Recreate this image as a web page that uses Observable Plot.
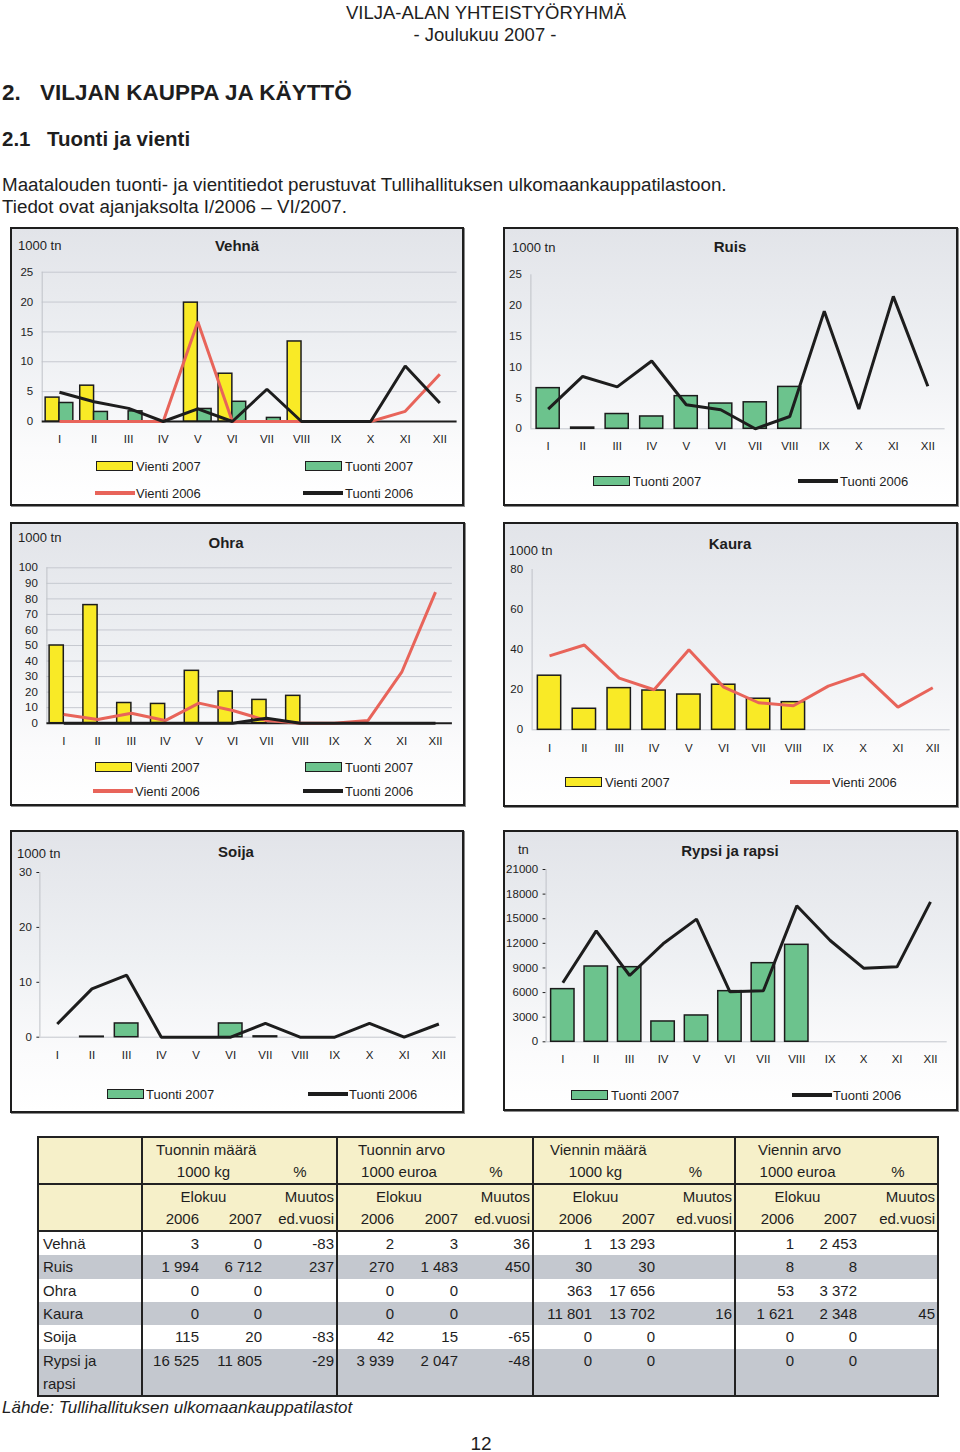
<!DOCTYPE html>
<html>
<head>
<meta charset="utf-8">
<script src="https://cdn.jsdelivr.net/npm/d3@7"></script>
<script src="https://cdn.jsdelivr.net/npm/@observablehq/plot@0.6"></script>
<style>
  html, body { margin: 0; padding: 0; background: #fff; }
  #page { position: relative; width: 960px; height: 1452px; overflow: hidden; font-family: "Liberation Sans", Arial, sans-serif; color: #1e1e1e; }
  .t { position: absolute; white-space: nowrap; line-height: 1; transform: translateY(-50%); }
  .c { transform: translate(-50%, -50%); }
  .panel { position: absolute; box-sizing: border-box; border: 2px solid #1e1e1e; box-shadow: 1px 1px 0 #8a8a8a;
           background: linear-gradient(to bottom, #e2e4e9 0%, #eef0f3 45%, #fbfbfc 80%, #ffffff 100%); }
  .sw { position: absolute; box-sizing: border-box; transform: translateY(-50%); }
  table.tbl { position: absolute; left: 37px; top: 1136px; width: 900px; border-collapse: collapse; table-layout: fixed;
              font-size: 15px; border: 2px solid #222; }
  table.tbl td { padding: 0 2px 0 0; height: 23.3px; line-height: 23.3px; text-align: right; white-space: nowrap; overflow: hidden; }
  table.tbl tr.hb td { height: 21.8px; line-height: 21.8px; border-bottom: 2px solid #222; }
  table.tbl tr.h td { background: #f6f0c9; }
  table.tbl tr.g td { background: #c4c8cf; }
  table.tbl tr.w td { background: #ffffff; }
  table.tbl td.lab { text-align: left; padding-left: 4px; }
  table.tbl td.gb { border-left: 2px solid #222; }
  table.tbl td.ctr { text-align: center; padding: 0; }
  table.tbl td.lft { text-align: left; }
</style>
</head>
<body>
<div id="page"></div>
<script>
// ---------- DATA ----------
const months = ["I","II","III","IV","V","VI","VII","VIII","IX","X","XI","XII"];

const vehnaVienti2007 = [4, 6, 0, 0, 19.9, 8, 0, 13.4, null, null, null, null];
const vehnaTuonti2007 = [3.1, 1.6, 1.7, 0, 2.1, 3.3, 0.6, 0, null, null, null, null];
const vehnaVienti2006 = [0, 0, 0, 0, 16.7, 0, 0, 0, 0, 0, 1.7, 7.9];
const vehnaTuonti2006 = [4.9, 3.3, 2.2, 0, 2.1, 0, 5.4, 0, 0, 0, 9.3, 3.1];

const ruisTuonti2007 = [6.6, 0.2, 2.4, 2, 5.3, 4.1, 4.3, 6.8, null, null, null, null];
const ruisTuonti2006 = [3.2, 8.5, 6.8, 11, 3.9, 3.1, 0, 2, 19.1, 3.2, 21.5, 6.9];

const ohraVienti2007 = [50, 76, 13, 12.4, 33.7, 20.4, 15, 17.6, null, null, null, null];
const ohraTuonti2007 = [0, 0, 0, 0, 0, 0, 0, 0, null, null, null, null];
const ohraVienti2006 = [5.6, 2.4, 6.4, 1.7, 12.9, 8.2, 1.7, 0, 0, 1.7, 32.8, 84.3];
const ohraTuonti2006 = [0, 0, 0, 0, 0, 0, 3.2, 0, 0, 0, 0, 0];

const kauraVienti2007 = [27, 10.5, 20.8, 19.6, 17.6, 22.5, 15.5, 13.8, null, null, null, null];
const kauraVienti2006 = [36.9, 42.3, 25.8, 20, 40, 21.3, 13.5, 12, 21.8, 27.8, 11.3, 21];

const soijaTuonti2007 = [0, 0.1, 2.5, 0, 0, 2.5, 0.15, null, null, null, null, null];
const soijaTuonti2006 = [2.4, 8.8, 11.3, 0, 0, 0, 2.5, 0, 0, 2.5, 0, 2.4];

const rypsiTuonti2007 = [6417, 9178, 9097, 2477, 3208, 6173, 9584, 11820, null, null, null, null];
const rypsiTuonti2006 = [7190, 13525, 8083, 11942, 14948, 6092, 6214, 16572, 12348, 8977, 9139, 17060];

const vehnaTicks = [0, 5, 10, 15, 20, 25];
const ruisTicks = [0, 5, 10, 15, 20, 25];
const ohraTicks = [0, 10, 20, 30, 40, 50, 60, 70, 80, 90, 100];
const kauraTicks = [0, 20, 40, 60, 80];
const soijaTicks = [0, 10, 20, 30];
const rypsiTicks = [0, 3000, 6000, 9000, 12000, 15000, 18000, 21000];

// table
const tableRows = ["Vehnä", "Ruis", "Ohra", "Kaura", "Soija", "Rypsi ja rapsi"];
const tuonninMaara2006 = ["3", "1 994", "0", "0", "115", "16 525"];
const tuonninMaara2007 = ["0", "6 712", "0", "0", "20", "11 805"];
const tuonninMaaraMuutos = ["-83", "237", "", "", "-83", "-29"];
const tuonninArvo2006 = ["2", "270", "0", "0", "42", "3 939"];
const tuonninArvo2007 = ["3", "1 483", "0", "0", "15", "2 047"];
const tuonninArvoMuutos = ["36", "450", "", "", "-65", "-48"];
const vienninMaara2006 = ["1", "30", "363", "11 801", "0", "0"];
const vienninMaara2007 = ["13 293", "30", "17 656", "13 702", "0", "0"];
const vienninMaaraMuutos = ["", "", "", "16", "", ""];
const vienninArvo2006 = ["1", "8", "53", "1 621", "0", "0"];
const vienninArvo2007 = ["2 453", "8", "3 372", "2 348", "0", "0"];
const vienninArvoMuutos = ["", "", "", "45", "", ""];
const groupTitles = ["Tuonnin määrä", "Tuonnin arvo", "Viennin määrä", "Viennin arvo"];
const groupUnits = ["1000 kg", "1000 euroa", "1000 kg", "1000 euroa"];

// ---------- COLOURS ----------
const YELLOW = "#f9ea26", GREEN = "#6cc38d", RED = "#e8645a", BLACK = "#1d1d1d";

const page = document.getElementById("page");

function text(x, y, s, style = {}, center = false) {
  const d = document.createElement("div");
  d.className = "t" + (center ? " c" : "");
  d.textContent = s;
  d.style.left = x + "px";
  d.style.top = y + "px";
  Object.assign(d.style, style);
  page.appendChild(d);
  return d;
}
function panel(x, y, w, h) {
  const d = document.createElement("div");
  d.className = "panel";
  Object.assign(d.style, {left: x + "px", top: y + "px", width: w + "px", height: h + "px"});
  page.appendChild(d);
}
function swatch(x, y, type, color, label, textX) {
  const d = document.createElement("div");
  d.className = "sw";
  if (type === "bar") {
    Object.assign(d.style, {left: x + "px", top: y + "px", width: "37px", height: "10px", background: color, border: "1.5px solid #1e1e1e"});
  } else {
    Object.assign(d.style, {left: x + "px", top: y + "px", width: "40px", height: "4px", background: color});
  }
  page.appendChild(d);
  text(textX, y, label, {fontSize: "13px"});
}

function chart(cfg) {
  const rows = arr => months.map((m, i) => ({m: i + 1, value: arr[i]}));
  const marks = [];
  if (cfg.grid) marks.push(Plot.ruleY(cfg.yTicks.filter(t => t > 0), {stroke: "#c6c9d0", strokeWidth: 1}));
  marks.push(Plot.ruleX([0.5], {stroke: "#bfc2c8", strokeWidth: 1}));
  marks.push(Plot.ruleY([0], {stroke: cfg.baseColor, strokeWidth: cfg.baseWidth}));
  for (const b of cfg.bars) {
    marks.push(Plot.rect(rows(b.values).filter(d => d.value != null && d.value > 0), {
      x1: d => d.m + b.from, x2: d => d.m + b.to, y1: 0, y2: "value",
      fill: b.fill, stroke: "#1c1c1c", strokeWidth: 1.5
    }));
  }
  for (const l of cfg.lines) {
    marks.push(Plot.line(rows(l.values).filter(d => d.value != null), {
      x: "m", y: "value", stroke: l.stroke, strokeWidth: 3, strokeLinejoin: "miter", strokeLinecap: "butt"
    }));
  }
  const svg = Plot.plot({
    width: cfg.w, height: cfg.h,
    marginTop: cfg.mt, marginBottom: cfg.mb, marginLeft: cfg.ml, marginRight: cfg.mr,
    style: {background: "transparent", fontFamily: "'Liberation Sans', Arial, sans-serif", fontSize: "11.5px", color: "#222", overflow: "visible"},
    x: {type: "linear", domain: [0.5, 12.5], ticks: months.map((m, i) => i + 1), tickFormat: d => months[d - 1],
        tickSize: 0, tickPadding: cfg.xPad, label: null},
    y: {domain: [cfg.yTicks[0], cfg.yTicks[cfg.yTicks.length - 1]], ticks: cfg.yTicks, tickFormat: d => String(d),
        tickSize: cfg.yTickSize || 0, tickPadding: cfg.yPad, label: null},
    marks
  });
  svg.style.position = "absolute";
  svg.style.left = cfg.x + "px";
  svg.style.top = cfg.y + "px";
  page.appendChild(svg);
}

// ---------- PAGE HEADER ----------
text(486, 13, "VILJA-ALAN YHTEISTYÖRYHMÄ", {fontSize: "18.5px"}, true);
text(485, 35, "- Joulukuu 2007 -", {fontSize: "18.5px"}, true);
text(2, 93, "2.", {fontSize: "22.5px", fontWeight: "bold"});
text(40, 93, "VILJAN KAUPPA JA KÄYTTÖ", {fontSize: "22.5px", fontWeight: "bold"});
text(2, 139, "2.1", {fontSize: "20.5px", fontWeight: "bold"});
text(47, 139, "Tuonti ja vienti", {fontSize: "20.5px", fontWeight: "bold"});
text(2, 185, "Maatalouden tuonti- ja vientitiedot perustuvat Tullihallituksen ulkomaankauppatilastoon.", {fontSize: "18.8px"});
text(2, 207, "Tiedot ovat ajanjaksolta I/2006 – VI/2007.", {fontSize: "18.8px"});

// ---------- PANELS ----------
panel(10, 227, 454, 279);
panel(503, 227, 455, 279);
panel(10, 522, 455, 284);
panel(503, 522, 455, 285);
panel(10, 830, 454, 283);
panel(503, 830, 455, 281);

// Vehnä
chart({x: 10, y: 227, w: 453, h: 230, ml: 31.7, mr: 6.4, mt: 44.7, mb: 36, xPad: 13, yPad: 9,
  yTicks: vehnaTicks, grid: true, baseColor: "#1d1d1d", baseWidth: 2,
  bars: [{values: vehnaVienti2007, fill: YELLOW, from: -0.4, to: 0}, {values: vehnaTuonti2007, fill: GREEN, from: 0, to: 0.4}],
  lines: [{values: vehnaVienti2006, stroke: RED}, {values: vehnaTuonti2006, stroke: BLACK}]});
text(237, 245, "Vehnä", {fontSize: "15px", fontWeight: "bold"}, true);
text(18, 245, "1000 tn", {fontSize: "13px"});
swatch(96, 466, "bar", YELLOW, "Vienti 2007", 136);
swatch(305, 466, "bar", GREEN, "Tuonti 2007", 345);
swatch(95, 493, "line", RED, "Vienti 2006", 136);
swatch(303, 493, "line", BLACK, "Tuonti 2006", 345);

// Ruis
chart({x: 503, y: 227, w: 454, h: 240, ml: 27.4, mr: 12.4, mt: 47.3, mb: 38.7, xPad: 13.5, yPad: 9,
  yTicks: ruisTicks, grid: false, baseColor: "#c4c7cd", baseWidth: 1,
  bars: [{values: ruisTuonti2007, fill: GREEN, from: -0.335, to: 0.335}],
  lines: [{values: ruisTuonti2006, stroke: BLACK}]});
text(730, 246, "Ruis", {fontSize: "15px", fontWeight: "bold"}, true);
text(512, 247, "1000 tn", {fontSize: "13px"});
swatch(593, 481, "bar", GREEN, "Tuonti 2007", 633);
swatch(798, 481, "line", BLACK, "Tuonti 2006", 840);

// Ohra
chart({x: 10, y: 522, w: 455, h: 240, ml: 36.4, mr: 13.1, mt: 45.3, mb: 39.3, xPad: 14, yPad: 9,
  yTicks: ohraTicks, grid: true, baseColor: "#1d1d1d", baseWidth: 2,
  bars: [{values: ohraVienti2007, fill: YELLOW, from: -0.42, to: 0}, {values: ohraTuonti2007, fill: GREEN, from: 0, to: 0.42}],
  lines: [{values: ohraVienti2006, stroke: RED}, {values: ohraTuonti2006, stroke: BLACK}]});
text(226, 542, "Ohra", {fontSize: "15px", fontWeight: "bold"}, true);
text(18, 537, "1000 tn", {fontSize: "13px"});
swatch(95, 767, "bar", YELLOW, "Vienti 2007", 135);
swatch(305, 767, "bar", GREEN, "Tuonti 2007", 345);
swatch(93, 791, "line", RED, "Vienti 2006", 135);
swatch(303, 791, "line", BLACK, "Tuonti 2006", 345);

// Kaura
chart({x: 503, y: 522, w: 454, h: 250, ml: 28.6, mr: 7.3, mt: 47, mb: 42.7, xPad: 14.4, yPad: 9,
  yTicks: kauraTicks, grid: false, baseColor: "#c4c7cd", baseWidth: 1,
  bars: [{values: kauraVienti2007, fill: YELLOW, from: -0.335, to: 0.335}],
  lines: [{values: kauraVienti2006, stroke: RED}]});
text(730, 543, "Kaura", {fontSize: "15px", fontWeight: "bold"}, true);
text(509, 550, "1000 tn", {fontSize: "13px"});
swatch(565, 782, "bar", YELLOW, "Vienti 2007", 605);
swatch(790, 782, "line", RED, "Vienti 2006", 832);

// Soija
chart({x: 10, y: 830, w: 453, h: 250, ml: 29.4, mr: 7.3, mt: 42, mb: 43.3, xPad: 14, yPad: 5, yTickSize: 3,
  yTicks: soijaTicks, grid: false, baseColor: "#c4c7cd", baseWidth: 1,
  bars: [{values: soijaTuonti2007, fill: GREEN, from: -0.34, to: 0.34}],
  lines: [{values: soijaTuonti2006, stroke: BLACK}]});
text(236, 851, "Soija", {fontSize: "15px", fontWeight: "bold"}, true);
text(17, 853, "1000 tn", {fontSize: "13px"});
swatch(107, 1094, "bar", GREEN, "Tuonti 2007", 146);
swatch(308, 1094, "line", BLACK, "Tuonti 2006", 349);

// Rypsi ja rapsi
chart({x: 503, y: 830, w: 454, h: 250, ml: 42.6, mr: 10.3, mt: 39, mb: 38.7, xPad: 12.7, yPad: 5, yTickSize: 3,
  yTicks: rypsiTicks, grid: false, baseColor: "#c4c7cd", baseWidth: 1,
  bars: [{values: rypsiTuonti2007, fill: GREEN, from: -0.35, to: 0.35}],
  lines: [{values: rypsiTuonti2006, stroke: BLACK}]});
text(730, 850, "Rypsi ja rapsi", {fontSize: "15px", fontWeight: "bold"}, true);
text(518, 849, "tn", {fontSize: "13px"});
swatch(571, 1095, "bar", GREEN, "Tuonti 2007", 611);
swatch(792, 1095, "line", BLACK, "Tuonti 2006", 833);

// ---------- TABLE ----------
(function () {
  const colW = [104, 59, 63, 73, 59, 64, 73, 61, 63, 78, 61, 63, 79];
  const pads = [13, 20, 16, 22];
  let h = '<table class="tbl"><colgroup>' + colW.map(w => `<col style="width:${w}px">`).join("") + "</colgroup>";
  h += '<tr class="h"><td></td>' + groupTitles.map((t, g) => `<td colspan="3" class="gb lft" style="padding-left:${pads[g]}px">${t}</td>`).join("") + "</tr>";
  h += '<tr class="h hb"><td></td>' + groupUnits.map(u => `<td colspan="2" class="gb ctr">${u}</td><td class="ctr">%</td>`).join("") + "</tr>";
  h += '<tr class="h"><td></td>' + groupUnits.map(() => `<td colspan="2" class="gb ctr">Elokuu</td><td>Muutos</td>`).join("") + "</tr>";
  h += '<tr class="h hb"><td></td>' + groupUnits.map(() => `<td class="gb">2006</td><td>2007</td><td>ed.vuosi</td>`).join("") + "</tr>";
  const groups = [
    [tuonninMaara2006, tuonninMaara2007, tuonninMaaraMuutos],
    [tuonninArvo2006, tuonninArvo2007, tuonninArvoMuutos],
    [vienninMaara2006, vienninMaara2007, vienninMaaraMuutos],
    [vienninArvo2006, vienninArvo2007, vienninArvoMuutos]
  ];
  tableRows.forEach((name, r) => {
    const cls = r % 2 === 1 ? "g" : "w";
    const label = name === "Rypsi ja rapsi" ? "Rypsi ja<br>rapsi" : name;
    h += `<tr class="${cls}"><td class="lab" style="vertical-align:top">${label}</td>` +
      groups.map(g => `<td class="gb" style="vertical-align:top">${g[0][r]}</td><td style="vertical-align:top">${g[1][r]}</td><td style="vertical-align:top">${g[2][r]}</td>`).join("") + "</tr>";
  });
  h += "</table>";
  page.insertAdjacentHTML("beforeend", h);
})();

text(2, 1407, "Lähde: Tullihallituksen ulkomaankauppatilastot", {fontSize: "17px", fontStyle: "italic"});
text(481, 1443, "12", {fontSize: "19px"}, true);
</script>
</body>
</html>
